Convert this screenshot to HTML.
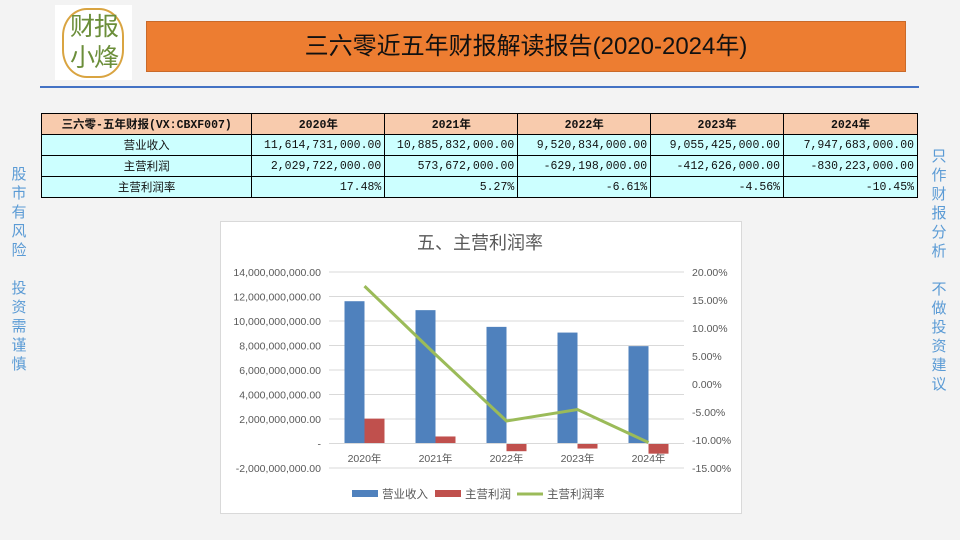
<!DOCTYPE html>
<html><head><meta charset="utf-8"><style>
body{margin:0;width:960px;height:540px;overflow:hidden;background:#f3f3f3;font-family:"Liberation Sans","Noto Sans CJK SC",sans-serif;position:relative}
.abs{position:absolute}
table{border-collapse:collapse;font-family:"Liberation Mono","Noto Sans CJK SC",monospace;font-size:11.5px}
td{border:1px solid #000;height:20px;padding:0 3px;text-align:right;background:#ccffff;color:#111}
tr.h td{background:#f8cbad;text-align:center;font-weight:bold}
td.l{text-align:center}
.side{color:#5b9bd5;font-size:15px;line-height:19px;width:18px;text-align:center}
</style></head><body>
<div class="abs" style="left:55px;top:5px;width:77px;height:75px;background:#fff"></div>
<div class="abs" style="left:62px;top:8px;width:62px;height:70px;border:2px solid #d9a441;border-radius:40%;box-sizing:border-box"></div>
<div class="abs" style="left:64px;top:12px;width:60px;font-size:25px;line-height:31px;color:#6b8e3a;text-align:center;letter-spacing:-1px">财报<br>小烽</div>
<div class="abs" style="left:146px;top:21px;width:760px;height:51px;background:#ed7d31;border:1px solid #c96a2a;box-sizing:border-box;text-align:center;line-height:49px;font-size:24px;color:#111">三六零近五年财报解读报告(2020-2024年)</div>
<div class="abs" style="left:40px;top:86px;width:879px;height:2px;background:#4472c4"></div>
<div class="abs side" style="left:10px;top:165px">股<br>市<br>有<br>风<br>险<br><br>投<br>资<br>需<br>谨<br>慎</div>
<div class="abs side" style="left:930px;top:147px">只<br>作<br>财<br>报<br>分<br>析<br><br>不<br>做<br>投<br>资<br>建<br>议</div>
<table class="abs" style="left:41px;top:113px;width:877px">
<colgroup><col style="width:211px"><col style="width:133px"><col style="width:133px"><col style="width:133px"><col style="width:133px"><col style="width:134px"></colgroup>
<tr class="h"><td>三六零-五年财报(VX:CBXF007)</td><td>2020年</td><td>2021年</td><td>2022年</td><td>2023年</td><td>2024年</td></tr>
<tr><td class="l">营业收入</td><td>11,614,731,000.00</td><td>10,885,832,000.00</td><td>9,520,834,000.00</td><td>9,055,425,000.00</td><td>7,947,683,000.00</td></tr>
<tr><td class="l">主营利润</td><td>2,029,722,000.00</td><td>573,672,000.00</td><td>-629,198,000.00</td><td>-412,626,000.00</td><td>-830,223,000.00</td></tr>
<tr><td class="l">主营利润率</td><td>17.48%</td><td>5.27%</td><td>-6.61%</td><td>-4.56%</td><td>-10.45%</td></tr>
</table>
<svg class="abs" style="left:0;top:0" width="960" height="540" id="chart">
<rect x="220.5" y="221.5" width="521" height="292" fill="#fff" stroke="#d9d9d9"/>
<text x="480" y="249" text-anchor="middle" font-size="18" fill="#595959">五、主营利润率</text>
</svg>
<script>
const categories=["2020年","2021年","2022年","2023年","2024年"];
const revenue=[11614731000,10885832000,9520834000,9055425000,7947683000];
const profit=[2029722000,573672000,-629198000,-412626000,-830223000];
const margin=[17.48,5.27,-6.61,-4.56,-10.45];
const leftTicks=[-2e9,0,2e9,4e9,6e9,8e9,10e9,12e9,14e9];
const rightTicks=[-15,-10,-5,0,5,10,15,20];
const svg=document.getElementById('chart');const NS='http://www.w3.org/2000/svg';
const X0=329,X1=684,YT=272,YB=468;
const yL=v=>YB-(v-(-2e9))/(16e9)*(YB-YT);
const yR=v=>YB-(v-(-15))/35*(YB-YT);
const band=(X1-X0)/categories.length;
const xc=i=>X0+band*(i+0.5);
function mk(t,a,parent){const e=document.createElementNS(NS,t);for(const k in a)e.setAttribute(k,a[k]);(parent||svg).appendChild(e);return e;}
leftTicks.forEach(v=>{
 const l=mk('line',{x1:X0,x2:X1,y1:yL(v),y2:yL(v),stroke:'#d9d9d9'});
 
 
 const t=mk('text',{x:321,y:yL(v)+4,'text-anchor':'end','font-size':'10.5',fill:'#595959'});
 t.textContent=v===0?'-':v.toLocaleString('en-US',{minimumFractionDigits:2});
 
 
});
rightTicks.forEach(v=>{
 const t=mk('text',{x:692,y:yR(v)+4,'font-size':'10.5',fill:'#595959'});
 t.textContent=v.toFixed(2)+'%';
 
 
});
const bw=20;
categories.forEach((c,i)=>{
 const b=mk('rect',{x:xc(i)-bw,y:Math.min(yL(revenue[i]),yL(0)),width:bw,height:Math.abs(yL(revenue[i])-yL(0)),fill:'#4f81bd'});
 
 
 const r=mk('rect',{x:xc(i),y:Math.min(yL(profit[i]),yL(0)),width:bw,height:Math.abs(yL(profit[i])-yL(0)),fill:'#c0504d'});
 
 
 const t=mk('text',{x:xc(i),y:462,'text-anchor':'middle','font-size':'10.5',fill:'#595959'});
 t.textContent=c;
 
 
});
const ax=mk('line',{x1:X0,x2:X1,y1:yL(0),y2:yL(0),stroke:'#d9d9d9'});


const pl=mk('polyline',{points:margin.map((v,i)=>xc(i)+','+yR(v)).join(' '),fill:'none',stroke:'#9bbb59','stroke-width':'3'});


const leg=[['rect','#4f81bd','营业收入',352],['rect','#c0504d','主营利润',435],['line','#9bbb59','主营利润率',517]];
leg.forEach(([k,col,txt,x])=>{
 const m=k==='rect'?mk('rect',{x:x,y:490,width:26,height:7,fill:col}):mk('line',{x1:x,x2:x+26,y1:494,y2:494,stroke:col,'stroke-width':3});
 
 
 const t=mk('text',{x:x+30,y:498,'font-size':'11.5',fill:'#595959'});
 t.textContent=txt;
 
 
});
</script>
</body></html>
